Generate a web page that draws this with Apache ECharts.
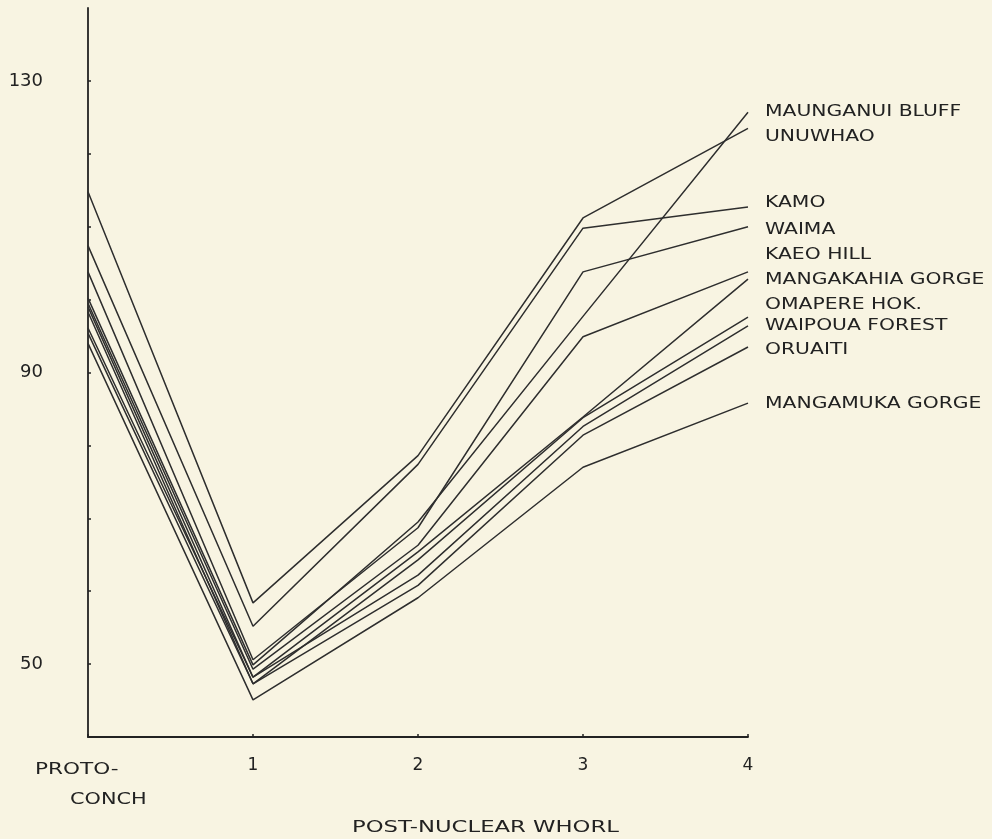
<!DOCTYPE html>
<html>
<head>
<meta charset="utf-8">
<script src="https://cdn.jsdelivr.net/npm/echarts@6/dist/echarts.min.js"></script>
<style>
html,body{margin:0;padding:0;background:#f8f4e2;}
#chart{width:992px;height:839px;}
</style>
</head>
<body>
<div id="chart"></div>
<script>
// ---- data ----
var categories = ['PROTO-CONCH', '1', '2', '3', '4'];
var seriesNames = ['MAUNGANUI BLUFF', 'UNUWHAO', 'KAMO', 'WAIMA', 'KAEO HILL',
  'MANGAKAHIA GORGE', 'OMAPERE HOK.', 'WAIPOUA FOREST', 'ORUAITI', 'MANGAMUKA GORGE'];
var maunganuiBluff = [100.2, 49.9, 69.5, 97.7, 125.7];
var unuwhao        = [114.8, 58.4, 78.6, 111.2, 123.5];
var kamo           = [107.4, 55.2, 77.4, 109.8, 112.7];
var waima          = [103.8, 50.6, 68.7, 103.8, 110.0];
var kaeoHill       = [99.5, 49.3, 66.3, 94.9, 103.8];
var mangakahia     = [99.0, 48.2, 65.4, 83.9, 102.8];
var omapere        = [98.3, 47.3, 64.3, 83.8, 97.6];
var waipoua        = [96.1, 48.2, 62.2, 82.6, 96.4];
var oruaiti        = [95.4, 47.3, 60.8, 81.4, 93.5];
var mangamuka      = [94.0, 45.1, 59.1, 77.0, 85.8];
var yTickLabels = [50, 90, 130];
var xTitle = 'POST-NUCLEAR WHORL';

var allValues = [maunganuiBluff, unuwhao, kamo, waima, kaeoHill,
  mangakahia, omapere, waipoua, oruaiti, mangamuka];

// ---- styling / layout ----
var ink = '#222';
var font = '"DejaVu Sans", sans-serif';
var labelTops = [112, 137, 203, 230, 255, 280, 305, 326, 350, 404];

var chart = echarts.init(document.getElementById('chart'), null, {renderer: 'canvas'});

var series = allValues.map(function (vals, i) {
  return {
    name: seriesNames[i],
    type: 'line',
    data: vals,
    symbol: 'none',
    lineStyle: {color: '#2e2e2e', width: 1.5},
    z: 2
  };
});

var graphics = seriesNames.map(function (n, i) {
  return {
    type: 'text',
    x: 765, y: labelTops[i],
    scaleX: 1.27,
    style: {text: n, fill: ink, font: '16px ' + font,
      textAlign: 'left', textVerticalAlign: 'middle'}
  };
});
var pc = categories[0].split('-');
graphics.push({type: 'text', x: 35, y: 770, scaleX: 1.35,
  style: {text: pc[0] + '-', fill: ink, font: '16px ' + font, textAlign: 'left', textVerticalAlign: 'middle'}});
graphics.push({type: 'text', x: 70, y: 800, scaleX: 1.3,
  style: {text: pc[1], fill: ink, font: '16px ' + font, textAlign: 'left', textVerticalAlign: 'middle'}});
graphics.push({type: 'text', x: 352, y: 828, scaleX: 1.42,
  style: {text: xTitle, fill: ink, font: '16px ' + font, textAlign: 'left', textVerticalAlign: 'middle'}});

chart.setOption({
  backgroundColor: '#f8f4e2',
  animation: false,
  grid: {left: 88, right: 244, top: 8, bottom: 102, containLabel: false},
  xAxis: {
    type: 'category',
    data: categories,
    boundaryGap: false,
    axisLine: {lineStyle: {color: ink, width: 1.8}},
    axisTick: {show: true, inside: true, length: 3, lineStyle: {color: ink, width: 1.5}},
    axisLabel: {
      color: ink, fontSize: 17, fontFamily: font, margin: 20,
      formatter: function (v, i) { return i === 0 ? '' : v; }
    },
    splitLine: {show: false}
  },
  yAxis: {
    type: 'value',
    min: 40, max: 140, interval: 10,
    axisLine: {show: true, lineStyle: {color: ink, width: 1.8}},
    axisTick: {show: true, inside: true, length: 3, lineStyle: {color: ink, width: 1.5},
      customValues: [50, 60, 70, 80, 90, 100, 110, 120, 130]},
    axisLabel: {
      color: ink, fontSize: 18, fontFamily: font, margin: 45, align: 'right',
      formatter: function (v) { return yTickLabels.indexOf(v) >= 0 ? String(v) : ''; }
    },
    splitLine: {show: false}
  },
  series: series,
  graphic: graphics
});
</script>
</body>
</html>
